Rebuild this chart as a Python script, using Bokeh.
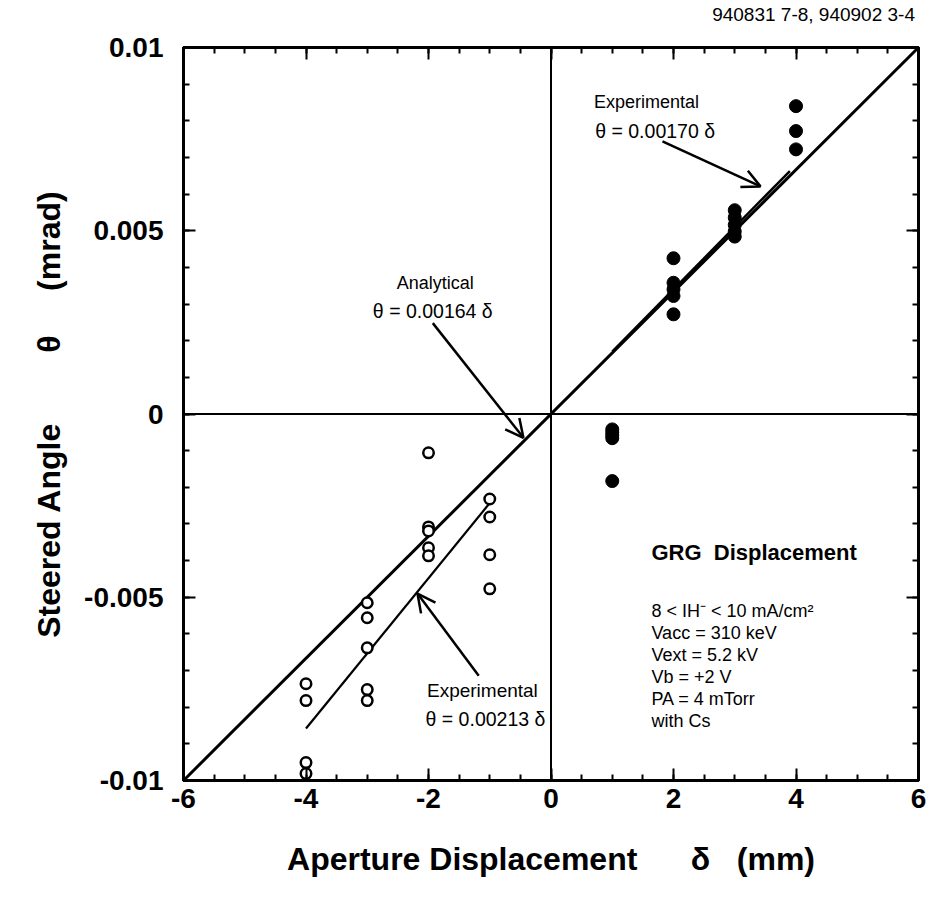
import numpy as np
from bokeh.plotting import figure
from bokeh.layouts import column
from bokeh.models import (Range1d, FixedTicker, LinearAxis, Span, Arrow, OpenHead,
                          Label, Div)
from bokeh.embed import file_html
from bokeh.resources import INLINE

# ---------------- data ----------------
# open circles (negative displacement)
neg_x = [-4, -4, -4, -4, -3, -3, -3, -3, -3, -2, -2, -2, -2, -2, -1, -1, -1, -1]
neg_y = [-0.00736, -0.00782, -0.00951, -0.00981,
         -0.00515, -0.00556, -0.00638, -0.00752, -0.00782,
         -0.00106, -0.00308, -0.00319, -0.00365, -0.00387,
         -0.00232, -0.00281, -0.00384, -0.00477]
# filled circles (positive displacement)
pos_x = [1, 1, 1, 1, 1, 2, 2, 2, 2, 2, 3, 3, 3, 3, 3, 4, 4, 4]
pos_y = [-0.00042, -0.00050, -0.00058, -0.00066, -0.00183,
         0.00425, 0.00358, 0.00340, 0.00322, 0.00272,
         0.00556, 0.00536, 0.00516, 0.00498, 0.00484,
         0.00840, 0.00772, 0.00722]

# analytical fit theta = 0.00164 delta (drawn across the frame)
ana_x = [-6, 6]
ana_y = [-0.0100, 0.0100]
# experimental fits
exp_pos_x = [1.0, 3.9]
exp_pos_y = [0.00170, 0.00663]
exp_neg_x = [-4.0, -1.0]
exp_neg_y = [-0.00858, -0.00243]

x_ticks = [-6, -4, -2, 0, 2, 4, 6]
x_tick_labels = ["-6", "-4", "-2", "0", "2", "4", "6"]
y_ticks = [-0.01, -0.005, 0, 0.005, 0.01]
y_tick_labels = ["-0.01", "-0.005", "0", "0.005", "0.01"]

params = ["8 < IH\u207b < 10 mA/cm\u00b2", "Vacc = 310 keV", "Vext = 5.2 kV",
          "Vb = +2 V", "PA = 4 mTorr", "with Cs"]
run_id = "940831 7-8, 940902 3-4"

FONT = "Liberation Sans"
SP = "\u00a0"
HEADER_H = 30

p = figure(width=932, height=911 - HEADER_H, output_backend="svg", toolbar_location=None,
           x_range=Range1d(-6, 6), y_range=Range1d(-0.01, 0.01),
           min_border_left=183, min_border_right=14, min_border_top=47 - HEADER_H,
           min_border_bottom=131, x_axis_location=None, y_axis_location=None)
p.grid.visible = False
p.outline_line_color = "black"
p.outline_line_width = 3
p.background_fill_color = "white"
p.border_fill_color = "white"

x_minor = list(np.arange(-6, 6.01, 0.5))
y_minor = list(np.round(np.arange(-0.01, 0.01001, 0.001), 4))


def make_axis(kind, show_labels):
    if kind == "x":
        ax = LinearAxis(ticker=FixedTicker(ticks=x_ticks, minor_ticks=x_minor))
        labs = x_tick_labels if show_labels else [""] * len(x_ticks)
        ax.major_label_overrides = {t: l for t, l in zip(x_ticks, labs)}
    else:
        ax = LinearAxis(ticker=FixedTicker(ticks=y_ticks, minor_ticks=y_minor))
        labs = y_tick_labels if show_labels else [""] * len(y_ticks)
        ax.major_label_overrides = {t: l for t, l in zip(y_ticks, labs)}
    ax.axis_line_width = 3
    ax.major_tick_in = 12
    ax.major_tick_out = 0
    ax.minor_tick_in = 6
    ax.minor_tick_out = 0
    ax.major_tick_line_width = 2
    ax.minor_tick_line_width = 2
    ax.major_label_text_font = FONT
    ax.major_label_text_font_style = "bold"
    ax.major_label_text_font_size = "28px"
    ax.major_label_text_color = "black"
    if not show_labels:
        ax.major_label_standoff = 0
    return ax


xb = make_axis("x", True)
xb.major_label_standoff = 8
xb.axis_label = "Aperture Displacement" + SP * 6 + "\u03b4" + SP * 3 + "(mm)"
xb.axis_label_text_font = FONT
xb.axis_label_text_font_style = "bold"
xb.axis_label_text_font_size = "32px"
xb.axis_label_text_color = "black"
xb.axis_label_standoff = 30
p.add_layout(xb, "below")

yl = make_axis("y", True)
yl.major_label_standoff = 20
yl.axis_label = "Steered Angle" + SP * 8 + "\u03b8" + SP * 5 + "(mrad)"
yl.axis_label_text_font = FONT
yl.axis_label_text_font_style = "bold"
yl.axis_label_text_font_size = "32px"
yl.axis_label_text_color = "black"
yl.axis_label_standoff = 14
p.add_layout(yl, "left")

p.add_layout(make_axis("x", False), "above")
p.add_layout(make_axis("y", False), "right")

p.add_layout(Span(location=0, dimension="width", line_color="black", line_width=2))
p.add_layout(Span(location=0, dimension="height", line_color="black", line_width=2))

p.line(ana_x, ana_y, line_color="black", line_width=3)
p.line(exp_pos_x, exp_pos_y, line_color="black", line_width=2.5)
p.line(exp_neg_x, exp_neg_y, line_color="black", line_width=2.2)

p.scatter(neg_x, neg_y, size=10.5, marker="circle", fill_color="white",
          line_color="black", line_width=2.5)
p.scatter(pos_x, pos_y, size=13, marker="circle", fill_color="black",
          line_color="black")

# arrows
for xs, ys, xe, ye in [(1.82, 0.00744, 3.42, 0.00621),
                       (-1.93, 0.00248, -0.45, -0.00065),
                       (-1.18, -0.00714, -2.18, -0.0049)]:
    p.add_layout(Arrow(end=OpenHead(size=18, line_width=2.5, line_color="black"),
                       x_start=xs, y_start=ys, x_end=xe, y_end=ye,
                       line_width=2.5, line_color="black"))


def lab(x, y, text, size="18px", style="normal", align="center"):
    p.add_layout(Label(x=x, y=y, text=text, text_font=FONT, text_font_size=size,
                       text_font_style=style, text_align=align,
                       text_baseline="middle", text_color="black"))


lab(1.56, 0.0085, "Experimental")
lab(1.70, 0.00771, "\u03b8 = 0.00170 \u03b4", size="19.5px")
lab(-1.89, 0.00357, "Analytical")
lab(-1.93, 0.00281, "\u03b8 = 0.00164 \u03b4", size="19.5px")
lab(-1.12, -0.00755, "Experimental", size="19px")
lab(-1.07, -0.00831, "\u03b8 = 0.00213 \u03b4", size="19.5px")
lab(1.64, -0.00379, "GRG" + SP * 2 + "Displacement", size="22px", style="bold", align="left")
for i, t in enumerate(params):
    lab(1.64, -0.00537 - i * 0.0006, t, size="18px", align="left")

# run identifier in the top right corner
header = Div(text=run_id, width=932, height=HEADER_H, margin=0,
             styles={"text-align": "right", "font-family": FONT, "font-size": "19px",
                     "line-height": f"{HEADER_H}px", "color": "black",
                     "padding-right": "17px", "box-sizing": "border-box",
                     "background-color": "white"})

layout = column(header, p, spacing=0)
open("out.html", "w").write(file_html(layout, INLINE))
